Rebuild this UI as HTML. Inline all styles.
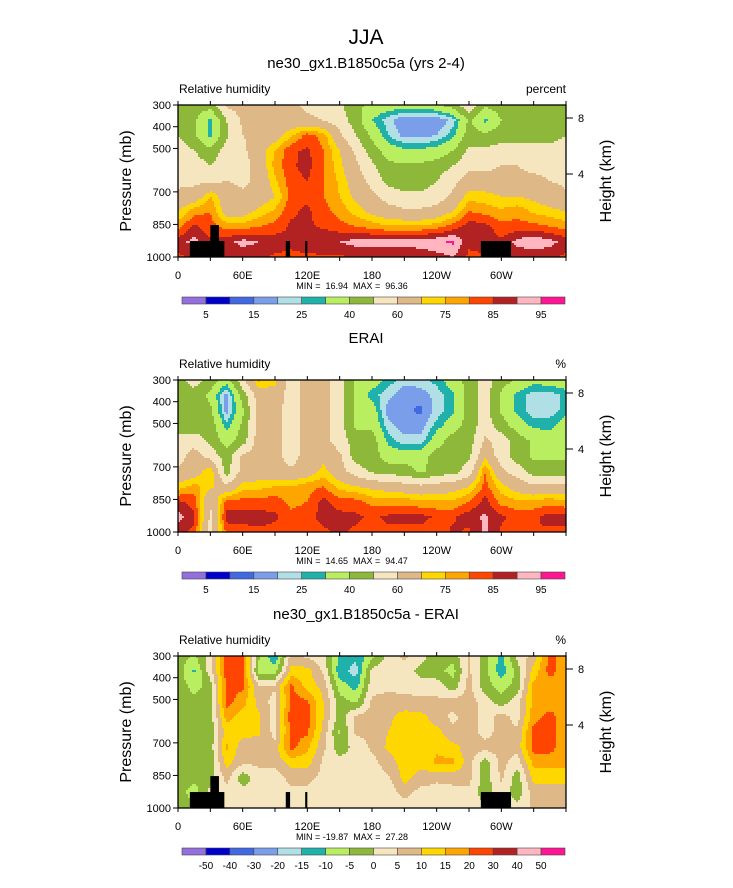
<!DOCTYPE html>
<html><head><meta charset="utf-8"><style>
body{margin:0;background:#fff}
svg{display:block;font-family:"Liberation Sans",sans-serif}
</style></head><body>
<svg id="chart" width="733" height="888" viewBox="0 0 733 888" xmlns="http://www.w3.org/2000/svg">
<text x="366" y="44" font-size="21" text-anchor="middle">JJA</text>
</svg>
<script>
// ---- data ----
const lonNodes=[0,15,30,45,60,75,90,105,120,135,150,165,180,195,210,225,240,255,270,285,300,315,330,345,360];
const xTickLabels=["0","60E","120E","180","120W","60W"];
const pressureTicks=[300,400,500,700,850,1000];
const heightTicks=[8,4];
const rhLevels=[5,10,15,20,25,30,40,50,60,70,75,80,85,90,95];
const diffLevels=[-50,-40,-30,-20,-15,-10,-5,0,5,10,15,20,30,40,50];
const rhLabelIdx=[0,2,4,6,8,10,12,14];
const diffLabelIdx=[0,1,2,3,4,5,6,7,8,9,10,11,12,13,14];
const palette=["#9370db","#0000cd","#4169e1","#7b9eeb","#b0e0e6","#20b2aa","#b9ee60","#8db83a","#f5e6c0","#deb887","#ffd700","#ffa500","#ff4500","#b22222","#ffb6c1","#ff1493"];
const modelGrid=[
[45,45,45,62,64,64,64,62,58,55,52,42,38,35,35,35,38,45,58,42,45,45,45,45,45],
[45,42,27,50,62,64,64,64,62,60,55,45,30,22,15,15,15,22,42,28,40,45,45,45,45],
[50,42,28,48,60,62,66,74,82,78,62,50,38,25,18,18,20,28,45,42,45,45,45,45,50],
[55,50,42,55,58,66,75,84,86,80,70,58,45,35,32,32,33,40,52,52,55,55,55,55,55],
[58,56,50,57,56,64,77,84,87,80,72,62,52,42,42,42,45,50,58,57,60,60,58,58,58],
[58,58,58,60,58,62,74,83,85,80,74,65,57,47,45,45,50,57,65,65,65,62,62,60,58],
[62,64,75,65,62,64,70,82,84,80,75,68,62,56,52,52,55,62,73,72,70,70,68,65,62],
[70,78,80,66,66,72,76,84,86,82,78,73,68,64,62,62,64,70,80,78,76,78,74,72,70],
[78,86,82,78,78,80,82,86,86,84,82,80,78,76,76,76,78,82,88,87,82,82,82,80,78],
[88,92,86,88,92,90,88,86,88,90,90,92,92,92,92,93,94,96,86,88,86,92,94,92,88],
[84,86,84,86,86,86,84,84,84,84,84,86,86,86,86,86,88,90,84,84,84,86,86,86,84]];
const eraiGrid=[
[45,55,45,35,58,76,72,55,65,64,55,38,35,28,22,23,27,35,44,55,45,38,33,35,35],
[45,45,38,17,45,65,66,55,65,64,55,38,27,22,16,17,22,28,44,55,38,28,22,22,27],
[45,45,42,17,38,65,64,55,65,64,55,38,35,17,16,14,22,28,44,55,38,28,22,22,27],
[45,45,46,27,42,65,64,55,65,64,55,38,38,22,17,17,27,35,45,55,45,35,28,28,35],
[55,55,48,35,45,65,64,55,65,64,55,45,45,28,22,22,35,45,45,62,55,45,38,35,35],
[55,65,56,45,62,65,64,55,65,68,62,45,45,35,35,35,45,45,48,68,55,45,38,38,38],
[62,65,75,45,64,65,64,62,65,72,64,55,48,45,45,38,45,45,55,80,62,55,45,45,45],
[72,77,72,62,72,73,75,75,78,80,73,70,68,66,64,62,64,66,70,82,72,66,62,64,62],
[86,83,60,82,82,82,83,78,80,87,82,82,78,78,78,76,76,76,80,87,78,76,76,78,76],
[92,86,58,87,87,87,86,82,83,87,87,86,84,86,86,87,84,84,88,91,86,83,84,87,87],
[86,84,56,82,83,84,83,82,82,84,86,84,83,84,84,83,82,86,84,91,84,82,85,84,84]];
const diffGrid=[
[-2,-6,3,22,21,-4,-14,7,4,2,-12,-14,-7,2,6,2,-3,-3,6,-3,-12,2,7,22,17],
[-2,-11,3,22,21,-7,-7,12,12,4,-13,-17,2,3,3,-2,-3,-7,6,-3,-13,-3,12,22,17],
[-2,-7,-3,22,21,6,6,21,13,8,-7,-12,3,4,3,3,3,-3,7,-3,-7,-3,17,17,17],
[-2,-3,-3,22,17,8,3,22,21,10,-3,-6,6,7,7,6,6,7,7,3,-3,3,17,17,17],
[-2,-3,-3,17,13,11,3,23,22,10,-3,6,7,9,12,12,7,4,7,3,7,3,18,22,17],
[-2,-3,-3,12,12,11,3,22,21,8,-6,6,6,10,12,12,12,6,7,3,7,6,22,22,17],
[-2,-3,-3,16,7,7,7,22,16,6,-3,2,6,11,12,12,14,12,7,7,7,7,22,22,17],
[-2,-3,-3,12,6,6,7,12,12,4,2,2,3,8,12,12,16,16,7,-3,7,2,17,17,17],
[-2,-3,-3,7,-3,3,2,7,7,3,2,2,2,4,12,8,6,7,7,-3,6,-3,12,12,12],
[-2,-8,2,3,2,2,2,3,3,2,2,2,2,2,7,3,3,3,3,-3,3,-3,7,7,7],
[-2,-3,2,2,2,2,2,2,2,2,2,2,2,2,2,2,2,2,2,2,2,2,6,6,6]];
// topography: [lonStart, lonEnd, topFraction]
const topoLon0=[11,30,100,118,281];
const topoLon1=[43,38,104,120,309];
const topoTop=[0.895,0.79,0.895,0.895,0.895];

const NS="http://www.w3.org/2000/svg";
const svg=document.getElementById('chart');
const PX0=178,PX1=566,PH=152;
function el(tag,attrs,parent){const e=document.createElementNS(NS,tag);for(const k in attrs)e.setAttribute(k,attrs[k]);(parent||svg).appendChild(e);return e;}
function xScale(lon){return PX0+lon/360*(PX1-PX0);}
function pFrac(p){return (p-300)/700;}
function colorFor(v,levels){let i=0;while(i<levels.length&&v>=levels[i])i++;return palette[i];}
function sample(grid,fx,fy){const nr=grid.length-1,nc=grid[0].length-1;const gx=fx*nc,gy=fy*nr;const i=Math.min(Math.floor(gx),nc-1),j=Math.min(Math.floor(gy),nr-1);const tx=gx-i,ty=gy-j;return grid[j][i]*(1-tx)*(1-ty)+grid[j][i+1]*tx*(1-ty)+grid[j+1][i]*(1-tx)*ty+grid[j+1][i+1]*tx*ty;}

function panel(top,grid,levels,labelIdx,title,unit,minmax,topo){
  const g=el('g',{});
  
  
  el('text',{x:366,y:top-37,'font-size':15,'text-anchor':'middle'},g).textContent=title;
  const st=el('text',{x:179,y:top-12,'font-size':12},g);st.textContent='Relative humidity';
  
  const ut=el('text',{x:566,y:top-12,'font-size':12,'text-anchor':'end'},g);ut.textContent=unit;
  
  const field=el('g',{},g);
  
  
  const cw=2,ch=2,W=PX1-PX0;
  for(let y=0;y<PH;y+=ch){let runStart=0,runCol=null;
    for(let x=0;x<=W;x+=cw){let c=null;if(x<W){c=colorFor(sample(grid,(x+cw/2)/W,(y+ch/2)/PH),levels);}
      if(c!==runCol){if(runCol!==null){const r=el('rect',{x:PX0+runStart,y:top+y,width:Math.min(x,W)-runStart,height:ch+0.3,fill:runCol},field);}runStart=x;runCol=c;}}}
  if(topo){for(let k=0;k<topoLon0.length;k++){const x0=xScale(topoLon0[k]),x1=xScale(topoLon1[k]);const r=el('rect',{x:x0,y:top+topoTop[k]*PH,width:x1-x0,height:PH*(1-topoTop[k]),fill:'#000'},g);}}
  el('rect',{x:PX0,y:top,width:W,height:PH,fill:'none',stroke:'#000','stroke-width':1.3},g);
  for(let lon=0;lon<=360;lon+=30){const x=xScale(lon);el('line',{x1:x,x2:x,y1:top+PH,y2:top+PH+4,stroke:'#000'},g);el('line',{x1:x,x2:x,y1:top,y2:top-4,stroke:'#000'},g);}
  xTickLabels.forEach((t,i)=>{const tx=el('text',{x:xScale(i*60),y:top+PH+22,'font-size':11,'text-anchor':'middle'},g);tx.textContent=t;});
  pressureTicks.forEach(p=>{const y=top+PH*pFrac(p);el('line',{x1:PX0-5,x2:PX0,y1:y,y2:y,stroke:'#000'},g);const tx=el('text',{x:PX0-7,y:y+4,'font-size':11,'text-anchor':'end'},g);tx.textContent=p;});
  heightTicks.forEach(h=>{const y=top+13+(8-h)*14;el('line',{x1:PX1,x2:PX1+7,y1:y,y2:y,stroke:'#000'},g);const tx=el('text',{x:PX1+12,y:y+4,'font-size':11},g);tx.textContent=h;});
  const yl=el('text',{x:0,y:0,'font-size':16,'text-anchor':'middle',transform:`translate(131,${top+PH/2}) rotate(-90)`},g);yl.textContent='Pressure (mb)';
  const yr=el('text',{x:0,y:0,'font-size':16,'text-anchor':'middle',transform:`translate(611,${top+PH/2}) rotate(-90)`},g);yr.textContent='Height (km)';
  const mm=el('text',{x:352,y:top+PH+32,'font-size':9,'text-anchor':'middle','xml:space':'preserve',style:'white-space:pre'},g);mm.textContent=minmax;
  const cb=el('g',{},g);
  const cx0=182,cw2=(565-182)/16,cy=top+PH+40;
  palette.forEach((c,i)=>{const r=el('rect',{x:cx0+i*cw2,y:cy,width:cw2,height:7,fill:c,stroke:'#444','stroke-width':0.6},cb);});
  labelIdx.forEach(i=>{const t=el('text',{x:cx0+(i+1)*cw2,y:cy+21,'font-size':10,'text-anchor':'middle'},cb);t.textContent=levels[i];});
}
panel(105,modelGrid,rhLevels,rhLabelIdx,'ne30_gx1.B1850c5a (yrs 2-4)','percent','MIN =  16.94  MAX =  96.36',true);
panel(380,eraiGrid,rhLevels,rhLabelIdx,'ERAI','%','MIN =  14.65  MAX =  94.47',false);
panel(656,diffGrid,diffLevels,diffLabelIdx,'ne30_gx1.B1850c5a - ERAI','%','MIN = -19.87  MAX =  27.28',true);
</script>
</body></html>
